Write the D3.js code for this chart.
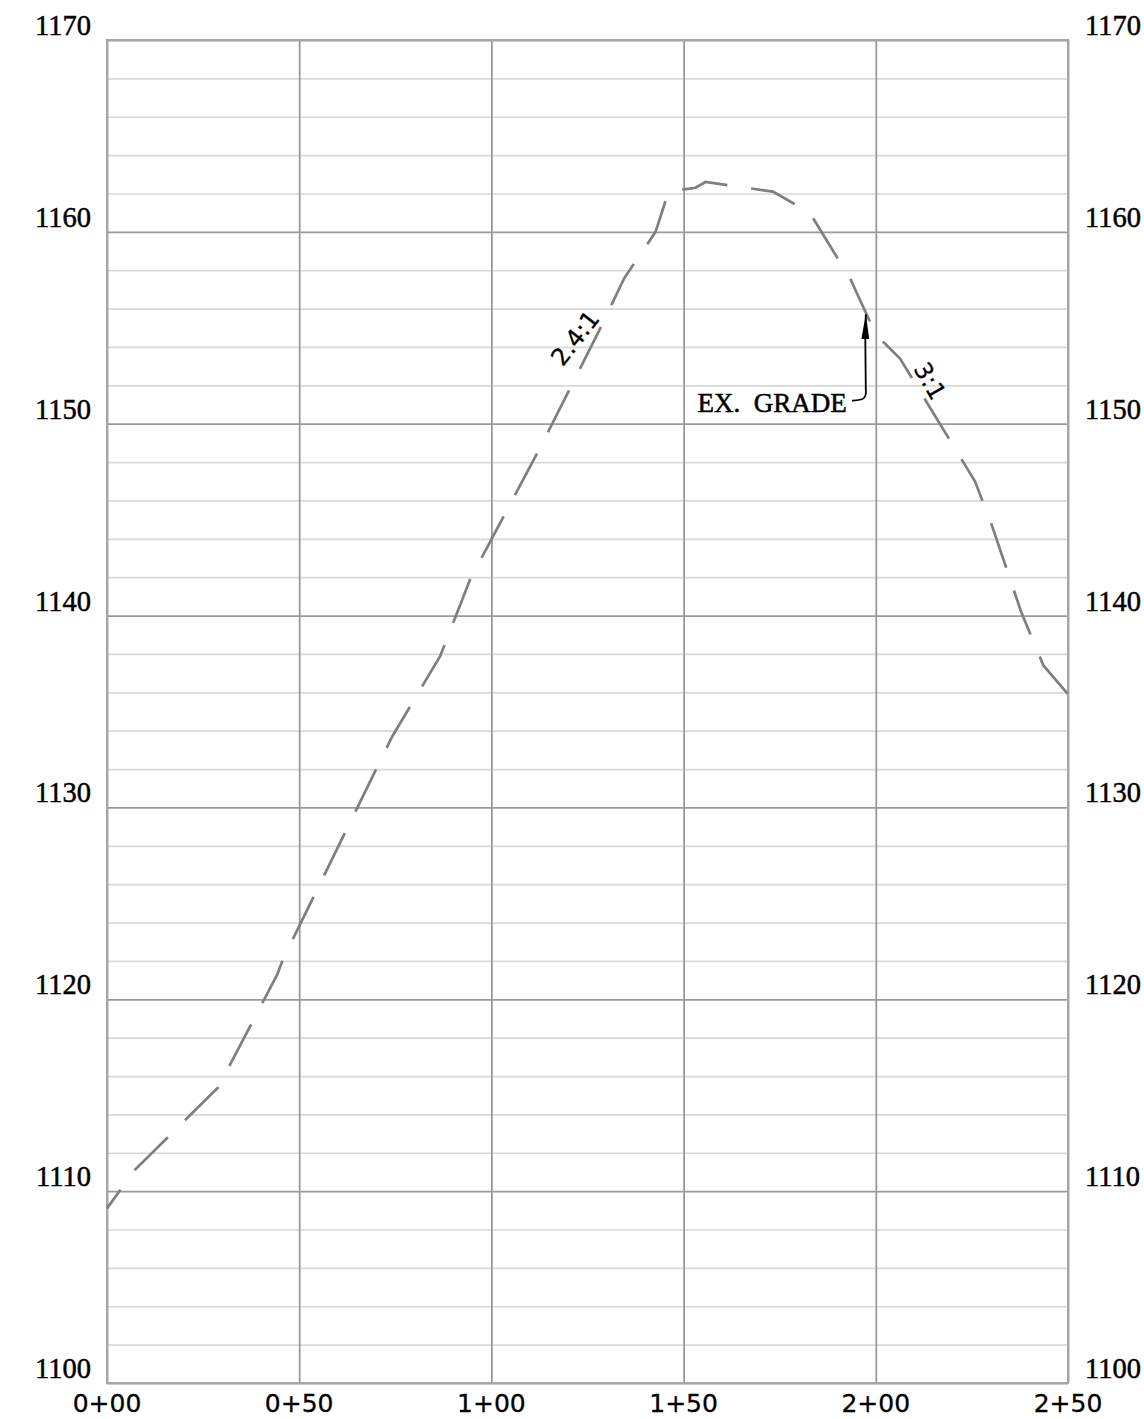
<!DOCTYPE html>
<html>
<head>
<meta charset="utf-8">
<script src="https://cdn.jsdelivr.net/npm/d3@7"></script>
<style>
body { margin:0; background:#fff; }
.ylab { font-family:"Liberation Serif", serif; font-size:28.5px; fill:#000; stroke:#000; stroke-width:0.5px; }
.xlab { font-family:"DejaVu Sans", sans-serif; font-size:25px; fill:#000; stroke:#000; stroke-width:0.3px; }
.note { font-family:"Liberation Serif", serif; font-size:27px; fill:#000; stroke:#000; stroke-width:0.5px; }
.slope { font-family:"DejaVu Sans", sans-serif; font-size:24px; fill:#000; stroke:#000; stroke-width:0.3px; }
</style>
</head>
<body>
<svg id="profile"></svg>
<script>
// existing ground profile, station (ft) vs elevation (ft)
var stations   = [0, 7.2, 28.9, 44.3, 45.8, 74.2, 86.7, 94.5, 112.8, 127.9, 134.6, 142.7, 146.1, 153.1, 155.7, 173.2, 182.8, 193.5, 199.2, 200.8, 206.3, 225.8, 230.2, 237.8, 243.6, 250];
var elevations = [1109.1, 1111.1, 1115.4, 1121.3, 1122.1, 1133.7, 1137.9, 1141.9, 1148.8, 1154.8, 1157.6, 1160.0, 1162.1, 1162.3, 1162.6, 1162.1, 1161.0, 1157.5, 1155.0, 1154.5, 1153.4, 1147.0, 1144.7, 1140.2, 1137.4, 1135.9];

var xTicks = [0, 50, 100, 150, 200, 250];
var xTickLabels = ["0+00", "0+50", "1+00", "1+50", "2+00", "2+50"];
var yTicks = [1100, 1110, 1120, 1130, 1140, 1150, 1160, 1170];

// slope callouts: text, station, elevation, angle
var slopeText  = ["2.4:1", "3:1"];
var slopeSta   = [123.5, 212.2];
var slopeElev  = [1154.2, 1152.0];
var slopeAngle = [-52, 60];

// EX. GRADE leader (station, elevation)
var noteSta  = [193.8, 196.6, 197.4, 197.4];
var noteElev = [1151.2, 1151.25, 1151.8, 1155.7];

var screen = {width:1144, height:1419};
var margins = {left:107, right:76, top:40, bottom:36};
var graph = {
    width: screen.width - margins.left - margins.right,
    height: screen.height - margins.top - margins.bottom
};

var svg = d3.select("#profile")
    .attr("width", screen.width)
    .attr("height", screen.height);

var xScale = d3.scaleLinear().domain([0, 250]).range([0, graph.width]);
var yScale = d3.scaleLinear().domain([1100, 1170]).range([graph.height, 0]);

var target = svg.append("g")
    .attr("transform", "translate(" + margins.left + "," + margins.top + ")");

// minor grid every 2 ft
target.append("g")
    .call(d3.axisLeft(yScale).tickValues(d3.range(1102, 1170, 2).filter(function(d){ return d % 10 != 0; }))
        .tickSize(-graph.width).tickFormat(""))
    .call(function(g){ g.select(".domain").remove(); })
    .selectAll("line").attr("stroke", "#d8d8d8").attr("stroke-width", 1.7);

// major grid
target.append("g")
    .call(d3.axisLeft(yScale).tickValues(yTicks).tickSize(-graph.width).tickFormat(""))
    .call(function(g){ g.select(".domain").remove(); })
    .selectAll("line").attr("stroke", "#9a9a9a").attr("stroke-width", 1.8);

target.append("g")
    .call(d3.axisBottom(xScale).tickValues(xTicks).tickSize(graph.height).tickFormat(""))
    .call(function(g){ g.select(".domain").remove(); })
    .selectAll("line").attr("stroke", "#9a9a9a").attr("stroke-width", 1.8);

target.append("rect")
    .attr("width", graph.width)
    .attr("height", graph.height)
    .attr("fill", "none")
    .attr("stroke", "#a6a6a6")
    .attr("stroke-width", 2);

// tick labels
target.selectAll(".ylab.left")
    .data(yTicks)
    .enter()
    .append("text")
    .attr("class", "ylab left")
    .attr("text-anchor", "end")
    .attr("x", -16)
    .attr("y", function(d){ return yScale(d) - 5; })
    .text(function(d){ return d; });

target.selectAll(".ylab.right")
    .data(yTicks)
    .enter()
    .append("text")
    .attr("class", "ylab right")
    .attr("x", graph.width + 17)
    .attr("y", function(d){ return yScale(d) - 5; })
    .text(function(d){ return d; });

target.selectAll(".xlab")
    .data(xTicks)
    .enter()
    .append("text")
    .attr("class", "xlab")
    .attr("text-anchor", "middle")
    .attr("x", function(d){ return xScale(d); })
    .attr("y", graph.height + 29)
    .text(function(d, i){ return xTickLabels[i]; });

// ground line
var pts = stations.map(function(s, i){ return [s, elevations[i]]; });
var line = d3.line()
    .x(function(d){ return xScale(d[0]); })
    .y(function(d){ return yScale(d[1]); });

target.append("path")
    .datum(pts)
    .attr("d", line)
    .attr("fill", "none")
    .attr("stroke", "#7f7f7f")
    .attr("stroke-width", 2.7)
    .attr("stroke-dasharray", "47,24")
    .attr("stroke-dashoffset", 24);

// slope labels
target.selectAll(".slope")
    .data(slopeText)
    .enter()
    .append("text")
    .attr("class", "slope")
    .attr("text-anchor", "middle")
    .attr("transform", function(d, i){
        return "translate(" + xScale(slopeSta[i]) + "," + yScale(slopeElev[i]) + ") rotate(" + slopeAngle[i] + ")";
    })
    .text(function(d){ return d; });

// EX. GRADE note with arrow
svg.append("defs").append("marker")
    .attr("id", "arrow")
    .attr("viewBox", "0 0 25 8")
    .attr("refX", 25).attr("refY", 4)
    .attr("markerWidth", 25).attr("markerHeight", 8)
    .attr("markerUnits", "userSpaceOnUse")
    .attr("orient", "auto")
    .append("path")
    .attr("d", "M0,0L25,4L0,8Z")
    .attr("fill", "#000");

target.append("text")
    .attr("class", "note")
    .attr("x", xScale(153.6))
    .attr("y", yScale(1150.6))
    .attr("xml:space", "preserve")
    .text("EX.  GRADE");

var p = d3.path();
p.moveTo(xScale(noteSta[0]), yScale(noteElev[0]));
p.bezierCurveTo(xScale(noteSta[1]), yScale(noteElev[1]), xScale(noteSta[2]) + 1, yScale(noteElev[1]), xScale(noteSta[2]), yScale(noteElev[2]));
p.lineTo(xScale(noteSta[3]) - 0.5, yScale(noteElev[3]) + 26);
p.lineTo(xScale(noteSta[3]), yScale(noteElev[3]));

target.append("path")
    .attr("d", p.toString())
    .attr("fill", "none")
    .attr("stroke", "#000")
    .attr("stroke-width", 1.8)
    .attr("marker-end", "url(#arrow)");
</script>
</body>
</html>
